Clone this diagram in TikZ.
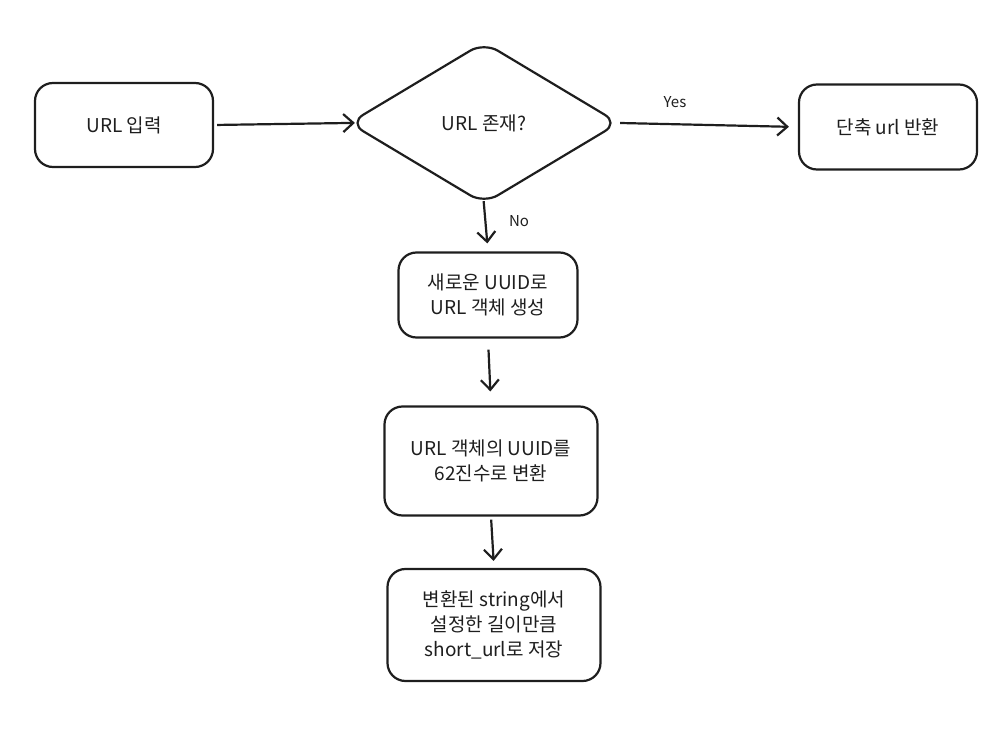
\documentclass[tikz,border=0pt]{standalone}
\usepackage{fontspec}
\setmainfont{Noto Sans CJK KR}
\usetikzlibrary{shapes.geometric,arrows.meta}
\definecolor{ink}{HTML}{1E1E1E}
\tikzset{
  box/.style={draw=ink, line width=2.2pt, rounded corners=18pt, align=center, text=ink,
    font=\fontsize{19}{25}\selectfont, inner sep=0pt},
  dia/.style={draw=ink, line width=2.2pt, diamond, rounded corners=16pt, align=center, text=ink,
    font=\fontsize{19}{25}\selectfont, inner sep=0pt},
  arr/.style={draw=ink, line width=2.2pt, -{Straight Barb[length=10pt,width=18pt,line width=2.2pt]}},
  lbl/.style={text=ink, font=\fontsize{15}{16}\selectfont, inner sep=0pt}
}
\begin{document}
\begin{tikzpicture}[x=1pt,y=-1pt]
\useasboundingbox (0,0) rectangle (1005,738);
\node[box, minimum width=178pt, minimum height=84pt] (b1) at (124,125) {URL 입력};
\node[dia, minimum width=270pt, minimum height=162pt] (d) at (484,123) {URL 존재?};
\node[box, minimum width=178pt, minimum height=85pt] (b5) at (888,127) {단축 url 반환};
\node[box, minimum width=179pt, minimum height=85pt] (b2) at (488,295) {새로운 UUID로\\URL 객체 생성};
\node[box, minimum width=213pt, minimum height=109pt] (b3) at (491,461) {URL 객체의 UUID를\\62진수로 변환};
\node[box, minimum width=213pt, minimum height=112pt] (b4) at (494,625) {변환된 string에서\\설정한 길이만큼\\short\_url로 저장};
\draw[arr, shorten <=3pt, shorten >=-7pt] (b1.east) -- (d.west);
\draw[arr, shorten <=0pt, shorten >=9pt] (d.east) -- (b5.west);
\draw[arr, shorten <=-4pt, shorten >=8pt] (d.south) -- (b2.north);
\draw[arr, shorten <=11pt, shorten >=14pt] (b2.south) -- (b3.north);
\draw[arr, shorten <=3pt, shorten >=7pt] (b3.south) -- (b4.north);
\node[lbl] (yes) at (675,102) {Yes};
\node[lbl] (no) at (519,221) {No};
\end{tikzpicture}
\end{document}
